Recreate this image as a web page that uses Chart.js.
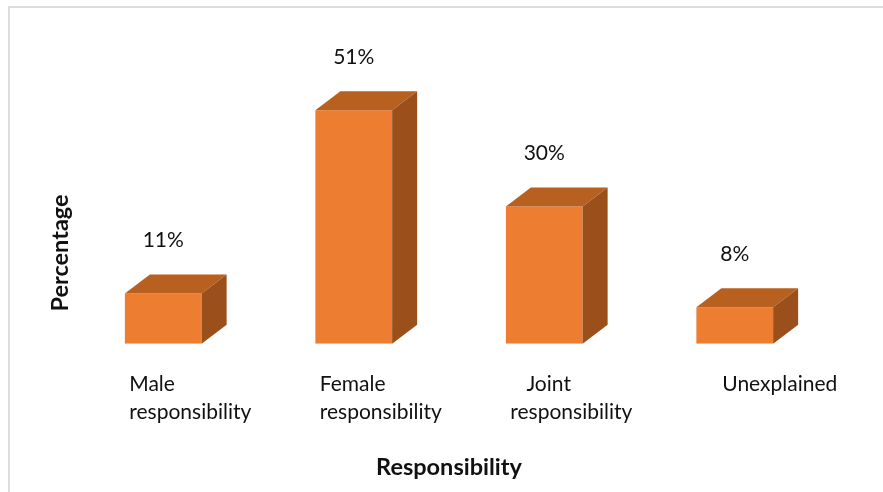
<!DOCTYPE html>
<html><head><meta charset="utf-8">
<script src="https://cdn.jsdelivr.net/npm/chart.js@4.4.1/dist/chart.umd.min.js"></script>
<style>html,body{margin:0;padding:0;background:#fff;overflow:hidden}#wrap{position:relative;width:883px;height:492px}</style>
</head><body><div id="wrap"><canvas id="c" width="883" height="492"></canvas></div>
<script>
const categories = [["Male","responsibility"],["Female","responsibility"],["   Joint","responsibility"],["    Unexplained"]];
const percentages = [11, 51, 30, 8];
const valueLabels = ["11%","51%","30%","8%"];
const yAxisTitle = "Percentage";
const xAxisTitle = "Responsibility";

const FRONT = '#ED7D31', TOP = '#B8601F', SIDE = '#9B501C';
const DX = 25, DY = -19;
const TEXT = '#111111';

Chart.defaults.font.family = 'Lato, "Open Sans", sans-serif';

const box3d = {
  id: 'box3d',
  beforeDraw(chart) {
    const ctx = chart.ctx;
    ctx.save();
    ctx.fillStyle = '#fff';
    ctx.fillRect(0, 0, chart.width, chart.height);
    ctx.strokeStyle = '#dcdcdc';
    ctx.lineWidth = 2;
    ctx.beginPath();
    ctx.moveTo(9, 492); ctx.lineTo(9, 7); ctx.lineTo(883, 7);
    ctx.stroke();
    ctx.restore();
  },
  afterDatasetsDraw(chart) {
    const ctx = chart.ctx;
    const meta = chart.getDatasetMeta(0);
    meta.data.forEach((bar, i) => {
      const p = bar.getProps(['x', 'y', 'base', 'width'], true);
      const l = p.x - p.width / 2, r = p.x + p.width / 2;
      ctx.save();
      ctx.fillStyle = TOP;
      ctx.beginPath();
      ctx.moveTo(l, p.y); ctx.lineTo(l + DX, p.y + DY); ctx.lineTo(r + DX, p.y + DY); ctx.lineTo(r, p.y);
      ctx.closePath(); ctx.fill();
      ctx.fillStyle = SIDE;
      ctx.beginPath();
      ctx.moveTo(r, p.y); ctx.lineTo(r + DX, p.y + DY); ctx.lineTo(r + DX, p.base + DY); ctx.lineTo(r, p.base);
      ctx.closePath(); ctx.fill();
      ctx.fillStyle = TEXT;
      ctx.font = '21px Lato, "Open Sans", sans-serif';
      ctx.textAlign = 'center';
      ctx.textBaseline = 'middle';
      ctx.fillText(valueLabels[i], p.x, p.y - 53);
      ctx.restore();
    });
  },
  afterDraw(chart) {
    const ctx = chart.ctx;
    ctx.save();
    ctx.translate(60, 253);
    ctx.rotate(-Math.PI / 2);
    ctx.fillStyle = TEXT;
    ctx.font = 'bold 23.5px Lato, "Open Sans", sans-serif';
    ctx.textAlign = 'center';
    ctx.textBaseline = 'middle';
    ctx.fillText(yAxisTitle, 0, 0);
    ctx.restore();
  }
};

new Chart(document.getElementById('c'), {
  type: 'bar',
  data: {
    labels: categories,
    datasets: [{
      data: percentages,
      backgroundColor: FRONT,
      borderWidth: 0,
      categoryPercentage: 1,
      barPercentage: 0.403
    }]
  },
  options: {
    responsive: false,
    animation: false,
    devicePixelRatio: 1,
    layout: { padding: { left: 68, right: 53, top: 69, bottom: 10 } },
    plugins: { legend: { display: false }, tooltip: { enabled: false } },
    scales: {
      x: {
        afterFit(scale) { scale.paddingLeft = 0; scale.paddingRight = 0; },
        grid: { display: false, drawTicks: false },
        border: { display: false },
        ticks: { align: 'start', labelOffset: -34, padding: 26, color: TEXT, maxRotation: 0, autoSkip: false,
                 font: { size: 21, lineHeight: 1.333 } },
        title: { display: true, text: xAxisTitle, color: TEXT, font: { size: 23.5, weight: 'bold' }, padding: { top: 2, bottom: 0 } }
      },
      y: { display: false, min: 0, max: 60 }
    }
  },
  plugins: [box3d]
});
</script>
</body></html>
